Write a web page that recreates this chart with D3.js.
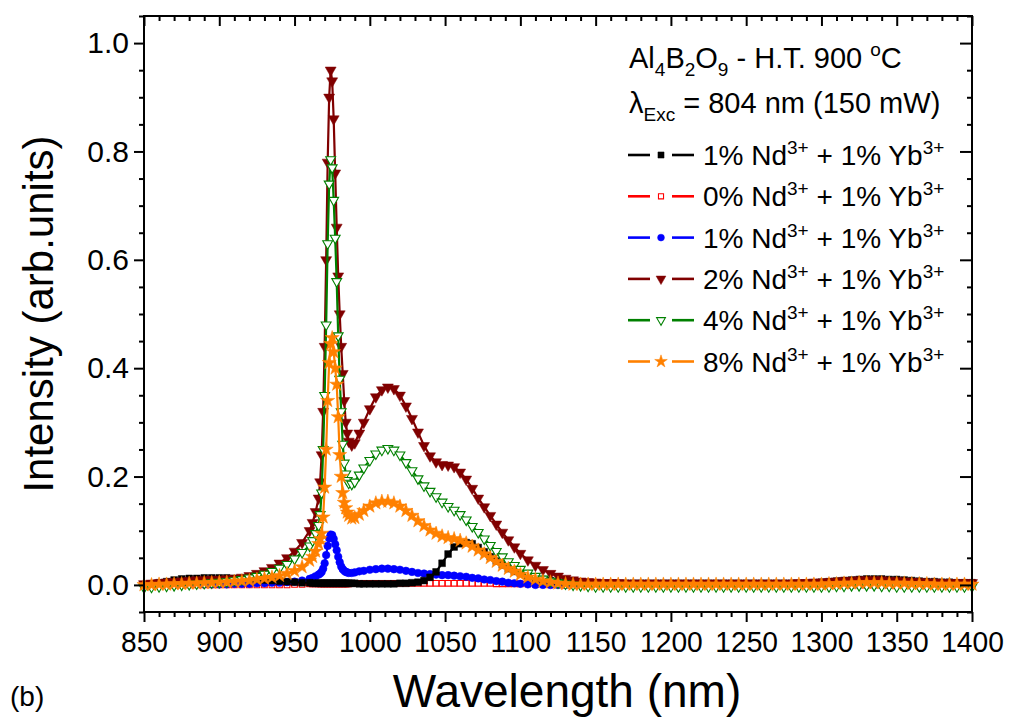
<!DOCTYPE html>
<html><head><meta charset="utf-8">
<script src="https://cdn.jsdelivr.net/npm/d3@7"></script>
<style>
body{margin:0;background:#fff}
svg{display:block}
text{font-family:"Liberation Sans",Arial,Helvetica,sans-serif;fill:#000}
</style>
</head><body>
<svg id="c" width="1009" height="724"></svg>
<script>
// ---------------- DATA ----------------
const wavelength = [
  850,855,860,865,870,875,880,885,890,895,900,905,910,915,920,925,930,935,940,945,950,955,
  960,962,964,
  966,967,968,969,970,971,972,973,974,975,976,977,978,979,980,981,982,983,984,985,986,
  988,990,993,996,
  1000,1004,1008,1012,1016,1020,1024,1028,1032,1036,1040,1044,1048,1052,1056,1060,1064,1068,1072,1076,1080,1084,1088,1092,1096,
  1100,1105,1110,1115,1120,1125,1130,1135,1140,1145,
  1150,1155,1160,1165,1170,1175,1180,1185,1190,1195,
  1200,1205,1210,1215,1220,1225,1230,1235,1240,1245,
  1250,1255,1260,1265,1270,1275,1280,1285,1290,1295,
  1300,1305,1310,1315,1320,1325,1330,1335,1340,1345,
  1350,1355,1360,1365,1370,1375,1380,1385,1390,1395,
  1400
];

// 1% Nd + 1% Yb (black)
const black1Nd = [
  0.000,0.002,0.004,0.006,0.009,0.011,0.012,0.012,0.013,0.013,0.013,0.013,0.012,0.012,0.011,0.010,0.009,0.008,0.007,0.006,0.005,0.004,
  0.004,0.003,0.003,
  0.003,0.003,0.003,0.003,0.003,0.003,0.003,0.003,0.003,0.003,0.003,0.003,0.003,0.003,0.003,0.003,0.003,0.003,0.003,0.003,0.003,
  0.003,0.003,0.002,0.002,
  0.002,0.002,0.002,0.002,0.002,0.003,0.003,0.004,0.005,0.008,0.014,0.024,0.040,0.057,0.070,0.076,0.078,0.076,0.069,0.061,0.052,0.044,0.037,0.030,0.025,
  0.021,0.016,0.012,0.010,0.008,0.006,0.005,0.004,0.004,0.003,
  0.003,0.003,0.003,0.003,0.003,0.003,0.003,0.003,0.003,0.003,
  0.003,0.003,0.003,0.003,0.003,0.003,0.003,0.003,0.003,0.003,
  0.003,0.003,0.003,0.003,0.003,0.003,0.003,0.003,0.003,0.004,
  0.005,0.006,0.007,0.008,0.009,0.010,0.011,0.011,0.011,0.010,
  0.010,0.009,0.008,0.007,0.006,0.006,0.005,0.005,0.004,0.004,
  0.004
];

// 0% Nd + 1% Yb (red)
const red0Nd = [
  0,0,0,0,0,0,0,0,0,0,0,0,0,0,0,0,0,0,0,0,0.001,0.001,
  0.002,0.002,0.002,
  0.002,0.002,0.002,0.002,0.002,0.002,0.002,0.002,0.002,0.002,0.002,0.002,0.002,0.002,0.002,0.002,0.002,0.002,0.002,0.002,0.002,
  0.003,0.003,0.003,0.003,
  0.003,0.003,0.003,0.003,0.003,0.003,0.003,0.003,0.003,0.003,0.003,0.003,0.003,0.003,0.003,0.003,0.003,0.003,0.003,0.003,0.003,0.002,0.002,0.002,0.002,
  0.002,0.002,0.001,0.001,0,0,0,0,0,0,
  0,0,0,0,0,0,0,0,0,0,
  0,0,0,0,0,0,0,0,0,0,
  0,0,0,0,0,0,0,0,0,0,
  0,0,0,0,0,0,0,0,0,0,
  0,0,0,0,0,0,0,0,0,0,
  0
];

// 1% Nd + 1% Yb (blue)
const blue1Nd = [
  0.000,0.000,0.000,0.000,0.000,0.001,0.001,0.001,0.001,0.001,0.001,0.001,0.002,0.002,0.002,0.003,0.003,0.004,0.004,0.005,0.006,0.008,
  0.011,0.013,0.016,
  0.019,0.021,0.024,0.030,0.040,0.055,0.072,0.086,0.093,0.092,0.085,0.075,0.064,0.052,0.042,0.034,0.029,0.026,0.024,0.023,0.022,
  0.022,0.023,0.025,0.026,
  0.028,0.029,0.030,0.030,0.029,0.028,0.026,0.024,0.022,0.021,0.020,0.019,0.018,0.018,0.017,0.016,0.015,0.013,0.012,0.010,0.009,0.007,0.006,0.004,0.003,
  0.002,0.001,0,0,0,0,0,0,0,0,
  0,0,0,0,0,0,0,0,0,0,
  0,0,0,0,0,0,0,0,0,0,
  0,0,0,0,0,0,0,0,0,0,
  0,0,0,0,0,0,0,0,0,0,
  0,0,0,0,0,0,0,0,0,0,
  0
];

// 2% Nd + 1% Yb (dark red)
const darkred2Nd = [
  0.002,0.003,0.004,0.005,0.006,0.007,0.008,0.009,0.009,0.010,0.010,0.011,0.012,0.014,0.017,0.021,0.026,0.032,0.040,0.050,0.062,0.078,
  0.100,0.115,0.135,
  0.16,0.19,0.24,0.32,0.44,0.60,0.78,0.90,0.95,0.93,0.86,0.76,0.66,0.57,0.50,0.44,0.39,0.34,0.30,0.28,0.265,
  0.258,0.262,0.280,0.300,
  0.325,0.347,0.360,0.365,0.362,0.350,0.330,0.307,0.282,0.257,0.238,0.227,0.222,0.221,0.218,0.208,0.195,0.178,0.160,0.144,0.128,0.112,0.097,0.083,0.070,
  0.058,0.046,0.036,0.028,0.021,0.016,0.012,0.009,0.007,0.006,
  0.005,0.004,0.004,0.004,0.003,0.003,0.003,0.003,0.003,0.003,
  0.003,0.003,0.003,0.003,0.003,0.003,0.003,0.003,0.003,0.003,
  0.003,0.003,0.003,0.003,0.003,0.003,0.003,0.004,0.004,0.005,
  0.005,0.006,0.007,0.008,0.008,0.009,0.009,0.009,0.009,0.008,
  0.008,0.007,0.006,0.006,0.005,0.005,0.004,0.004,0.004,0.004,
  0.004
];

// 4% Nd + 1% Yb (green)
const green4Nd = [
  -0.005,-0.004,-0.003,-0.002,-0.001,0.000,0.001,0.002,0.003,0.004,0.005,0.006,0.008,0.010,0.013,0.016,0.020,0.025,0.031,0.038,0.048,0.060,
  0.072,0.082,0.095,
  0.11,0.13,0.17,0.25,0.35,0.48,0.63,0.74,0.785,0.77,0.71,0.64,0.56,0.46,0.38,0.32,0.26,0.225,0.205,0.193,0.188,
  0.186,0.190,0.203,0.216,
  0.230,0.242,0.249,0.252,0.249,0.240,0.226,0.211,0.196,0.183,0.173,0.163,0.153,0.145,0.138,0.130,0.120,0.108,0.097,0.085,0.073,0.062,0.052,0.043,0.036,
  0.029,0.022,0.016,0.011,0.007,0.004,0.002,0.000,-0.001,-0.002,
  -0.003,-0.003,-0.003,-0.003,-0.003,-0.003,-0.003,-0.003,-0.003,-0.003,
  -0.003,-0.003,-0.003,-0.003,-0.003,-0.003,-0.003,-0.003,-0.003,-0.003,
  -0.003,-0.003,-0.003,-0.003,-0.003,-0.003,-0.003,-0.003,-0.003,-0.003,
  -0.003,-0.003,-0.002,-0.002,-0.001,-0.001,-0.001,-0.001,-0.002,-0.002,
  -0.003,-0.003,-0.003,-0.003,-0.003,-0.003,-0.003,-0.003,-0.003,-0.003,
  -0.003
];

// 8% Nd + 1% Yb (orange)
const orange8Nd = [
  0.000,0.000,0.001,0.001,0.002,0.002,0.003,0.003,0.004,0.004,0.005,0.005,0.006,0.007,0.008,0.010,0.012,0.014,0.017,0.021,0.026,0.033,
  0.045,0.052,0.062,
  0.076,0.085,0.095,0.125,0.18,0.25,0.34,0.41,0.445,0.456,0.43,0.40,0.37,0.31,0.24,0.20,0.17,0.152,0.142,0.134,0.128,
  0.123,0.124,0.130,0.137,
  0.145,0.151,0.154,0.154,0.151,0.145,0.137,0.128,0.118,0.109,0.101,0.095,0.090,0.087,0.085,0.082,0.077,0.071,0.064,0.057,0.050,0.043,0.036,0.030,0.025,
  0.019,0.014,0.010,0.007,0.005,0.003,0.002,0.001,0.001,0.001,
  0.001,0.001,0.001,0.001,0.001,0.001,0.001,0.001,0.001,0.001,
  0.001,0.001,0.001,0.001,0.001,0.001,0.001,0.001,0.001,0.001,
  0.001,0.001,0.001,0.001,0.001,0.001,0.001,0.001,0.001,0.001,
  0.001,0.002,0.002,0.003,0.003,0.004,0.004,0.004,0.004,0.003,
  0.003,0.003,0.002,0.002,0.002,0.001,0.001,0.001,0.001,0.001,
  0.001
];

const ndLabels = ["1%","0%","1%","2%","4%","8%"];
const xTickValues = [850,900,950,1000,1050,1100,1150,1200,1250,1300,1350,1400];
const yTickValues = [0.0,0.2,0.4,0.6,0.8,1.0];

// --------------- CHART ----------------
const allSeries = [
  {values: black1Nd,   color:"#000000", sym:"square",   filled:true,  label:0},
  {values: red0Nd,     color:"#ff0000", sym:"square",   filled:false, label:1},
  {values: blue1Nd,    color:"#0000ff", sym:"circle",   filled:true,  label:2},
  {values: darkred2Nd, color:"#800000", sym:"triangle", filled:true,  label:3},
  {values: green4Nd,   color:"#008000", sym:"triangle", filled:false, label:4},
  {values: orange8Nd,  color:"#ff8000", sym:"star",     filled:true,  label:5}
];
allSeries.forEach((s,i)=>{ if(s.values.length!==wavelength.length) throw new Error("series "+i+" length "+s.values.length+" vs "+wavelength.length); });

const svg = d3.select("#c");
const x = d3.scaleLinear().domain([850,1400]).range([144,972]);
const y = d3.scaleLinear().domain([-0.05,1.05]).range([612,16]);

function symPath(s, scale){
  scale = scale||1;
  if(s.sym==="square") return d3.symbol(d3.symbolSquare, (s.filled?46:32)*scale)();
  if(s.sym==="circle") return d3.symbol(d3.symbolCircle, 46*scale)();
  if(s.sym==="triangle") return d3.symbol(d3.symbolTriangle, (s.filled?52:42)*scale)();
  if(s.sym==="star") return d3.symbol(d3.symbolStar, 62*scale)();
}
function symTransform(s){ return s.sym==="triangle" ? " rotate(180)" : ""; }

const drawOrder = [1,2,0,3,4,5];
const plot = svg.append("g");
const line = d3.line().x((d,i)=>x(wavelength[i])).y(d=>y(d));
drawOrder.forEach(k=>{
  const s = allSeries[k];
  const g = plot.append("g");
  g.append("path").attr("d", line(s.values)).attr("fill","none").attr("stroke",s.color).attr("stroke-width",2.2);
  const p = symPath(s);
  g.selectAll("path.m").data(s.values).join("path").attr("class","m")
    .attr("d",p)
    .attr("transform",(d,i)=>`translate(${x(wavelength[i])},${y(d)})`+symTransform(s))
    .attr("fill", s.filled? s.color : "#fff")
    .attr("stroke", s.color).attr("stroke-width", s.filled?0.5:1.1);
});

// axes
const xMinor = d3.range(850,1401,10).filter(v=>v%50!==0);
const yMinor = d3.range(-0.05,1.06,0.05).map(v=>+v.toFixed(2)).filter(v=>Math.abs(Math.round(v*10)/10 - v)>1e-6 || Math.round(v*10)%2!==0);

function styleAxis(g){ g.select(".domain").remove(); g.selectAll("line").attr("stroke","#000").attr("stroke-width",2); }

// bottom
svg.append("g").attr("transform","translate(0,612)")
  .call(d3.axisBottom(x).tickValues(xTickValues).tickSize(10).tickSizeOuter(0).tickFormat(d3.format("d")))
  .call(styleAxis)
  .call(g=>g.selectAll("text").attr("font-size",30).attr("y",40).attr("dy",0).attr("transform","scale(0.94,1)").attr("font-family","'Liberation Sans',Arial,sans-serif"));
svg.append("g").attr("transform","translate(0,612)")
  .call(d3.axisBottom(x).tickValues(xMinor).tickSize(5).tickSizeOuter(0).tickFormat(""))
  .call(styleAxis);
// top (inward)
svg.append("g").attr("transform","translate(0,16)")
  .call(d3.axisBottom(x).tickValues(xTickValues).tickSize(10).tickSizeOuter(0).tickFormat(""))
  .call(styleAxis);
svg.append("g").attr("transform","translate(0,16)")
  .call(d3.axisBottom(x).tickValues(xMinor).tickSize(5).tickSizeOuter(0).tickFormat(""))
  .call(styleAxis);
// left
svg.append("g").attr("transform","translate(144,0)")
  .call(d3.axisLeft(y).tickValues(yTickValues).tickSize(10).tickSizeOuter(0).tickFormat(d3.format(".1f")).tickPadding(5))
  .call(styleAxis)
  .call(g=>g.selectAll("text").attr("font-size",30).attr("font-family","'Liberation Sans',Arial,sans-serif"));
svg.append("g").attr("transform","translate(144,0)")
  .call(d3.axisLeft(y).tickValues(yMinor).tickSize(5).tickSizeOuter(0).tickFormat(""))
  .call(styleAxis);
// right (inward)
svg.append("g").attr("transform","translate(972,0)")
  .call(d3.axisLeft(y).tickValues(yTickValues).tickSize(12).tickSizeOuter(0).tickFormat(""))
  .call(styleAxis);
svg.append("g").attr("transform","translate(972,0)")
  .call(d3.axisLeft(y).tickValues(yMinor).tickSize(5).tickSizeOuter(0).tickFormat(""))
  .call(styleAxis);

// frame
svg.append("path").attr("d",`M${x(850)},${y(1.05)}H${x(1400)}V${y(-0.05)}H${x(850)}Z`)
  .attr("fill","none").attr("stroke","#000").attr("stroke-width",2);

// axis titles
svg.append("text").attr("x",567).attr("y",707).attr("text-anchor","middle").attr("font-size",46).text("Wavelength (nm)");
svg.append("text").attr("transform","translate(53,314) rotate(-90)").attr("text-anchor","middle").attr("font-size",42).text("Intensity (arb.units)");
svg.append("text").attr("x",10).attr("y",706).attr("font-size",28).text("(b)");

// legend header
const LX = 629, FS = 28, HS = 29, SS = 19;
const t1 = svg.append("text").attr("x",LX).attr("y",68).attr("font-size",HS);
t1.append("tspan").text("Al");
t1.append("tspan").attr("dy",8).attr("font-size",SS).text("4");
t1.append("tspan").attr("dy",-8).text("B");
t1.append("tspan").attr("dy",8).attr("font-size",SS).text("2");
t1.append("tspan").attr("dy",-8).text("O");
t1.append("tspan").attr("dy",8).attr("font-size",SS).text("9");
t1.append("tspan").attr("dy",-8).text(" - H.T. 900 ");
t1.append("tspan").attr("dy",-12).attr("font-size",SS).text("o");
t1.append("tspan").attr("dy",12).text("C");

const t2 = svg.append("text").attr("x",LX).attr("y",113).attr("font-size",HS);
t2.append("tspan").text("\u03bb");
t2.append("tspan").attr("dy",8).attr("font-size",SS).text("Exc");
t2.append("tspan").attr("dy",-8).text(" = 804 nm (150 mW)");

// legend entries
const leg = svg.append("g");
allSeries.forEach((s,i)=>{
  const cy = 155 + i*41.3;
  const g = leg.append("g");
  g.append("line").attr("x1",628).attr("x2",650).attr("y1",cy).attr("y2",cy).attr("stroke",s.color).attr("stroke-width",2.6);
  g.append("line").attr("x1",672).attr("x2",694).attr("y1",cy).attr("y2",cy).attr("stroke",s.color).attr("stroke-width",2.6);
  g.append("path").attr("d",symPath(s,0.8)).attr("transform",`translate(661,${cy})`+symTransform(s))
    .attr("fill", s.filled? s.color : "#fff").attr("stroke",s.color).attr("stroke-width", s.filled?0.5:1.1);
  const t = g.append("text").attr("x",703).attr("y",cy+10).attr("font-size",FS);
  t.append("tspan").text(ndLabels[s.label]+" Nd");
  t.append("tspan").attr("dy",-11).attr("font-size",SS).text("3+");
  t.append("tspan").attr("dy",11).text(" + 1% Yb");
  t.append("tspan").attr("dy",-11).attr("font-size",SS).text("3+");
});
</script>
</body></html>
